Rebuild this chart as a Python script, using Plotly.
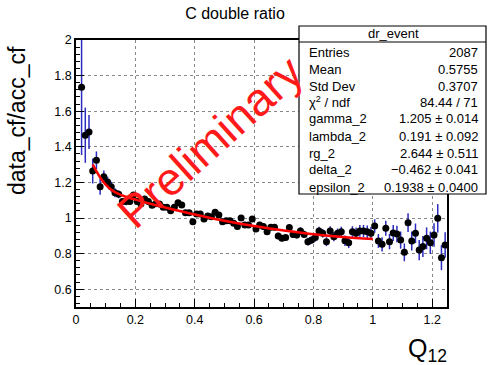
import plotly.graph_objects as go

# ---- data ----
q12 = [0.0188, 0.0313, 0.0438, 0.0563, 0.0688, 0.0813, 0.0938, 0.1063, 0.1188, 0.1313,
       0.1438, 0.1563, 0.1688, 0.1813, 0.1938, 0.2063, 0.2188, 0.2313, 0.2438, 0.2563,
       0.2688, 0.2813, 0.2938, 0.3063, 0.3188, 0.3313, 0.3438, 0.3563, 0.3688, 0.3813,
       0.3938, 0.4063, 0.4188, 0.4313, 0.4438, 0.4563, 0.4688, 0.4813, 0.4938, 0.5063,
       0.5188, 0.5313, 0.5438, 0.5563, 0.5688, 0.5813, 0.5938, 0.6063, 0.6188, 0.6313,
       0.6438, 0.6563, 0.6688, 0.6813, 0.6938, 0.7063, 0.7188, 0.7313, 0.7438, 0.7563,
       0.7688, 0.7813, 0.7938, 0.8063, 0.8188, 0.8313, 0.8438, 0.8563, 0.8688, 0.8813,
       0.8938, 0.9063, 0.9188, 0.9313, 0.9438, 0.9563, 0.9688, 0.9813, 0.9938, 1.0063,
       1.0188, 1.0313, 1.0438, 1.0563, 1.0688, 1.0813, 1.0938, 1.1063, 1.1188, 1.1313,
       1.1438, 1.1563, 1.1688, 1.1813, 1.1938, 1.2063, 1.2188, 1.2313, 1.2438]
ratio = [1.734, 1.465, 1.483, 1.264, 1.324, 1.176, 1.232, 1.202, 1.176, 1.142,
         1.133, 1.092, 1.092, 1.092, 1.129, 1.092, 1.079, 1.107, 1.092, 1.071,
         1.080, 1.079, 1.060, 1.060, 1.041, 1.060, 1.086, 1.073, 1.030, 1.030,
         0.979, 1.022, 1.022, 0.994, 1.011, 1.007, 1.032, 1.017, 0.979, 0.985,
         0.985, 0.970, 0.952, 1.000, 0.961, 0.961, 0.994, 0.938, 0.961, 0.952,
         0.923, 0.948, 0.948, 0.899, 0.886, 0.890, 0.946, 0.908, 0.905, 0.927,
         0.908, 0.867, 0.876, 0.890, 0.927, 0.914, 0.867, 0.927, 0.895, 0.914,
         0.923, 0.872, 0.861, 0.923, 0.914, 0.927, 0.927, 0.923, 0.914, 0.955,
         0.871, 0.852, 0.942, 0.867, 0.916, 0.910, 0.876, 0.807, 0.974, 0.871,
         0.914, 0.820, 0.840, 0.886, 0.861, 0.905, 0.998, 0.777, 0.848]
ratio_err = [0.380, 0.155, 0.095, 0.070, 0.050, 0.045, 0.035, 0.030, 0.028, 0.025,
             0.022, 0.020, 0.020, 0.018, 0.016, 0.015, 0.015, 0.014, 0.014, 0.014,
             0.014, 0.013, 0.013, 0.013, 0.013, 0.013, 0.013, 0.013, 0.013, 0.013,
             0.013, 0.013, 0.013, 0.013, 0.013, 0.013, 0.014, 0.014, 0.014, 0.014,
             0.014, 0.014, 0.015, 0.015, 0.015, 0.015, 0.016, 0.016, 0.016, 0.017,
             0.017, 0.017, 0.018, 0.018, 0.018, 0.019, 0.019, 0.020, 0.020, 0.021,
             0.021, 0.022, 0.022, 0.023, 0.024, 0.024, 0.025, 0.026, 0.026, 0.027,
             0.028, 0.029, 0.030, 0.031, 0.032, 0.033, 0.034, 0.035, 0.036, 0.038,
             0.039, 0.040, 0.042, 0.043, 0.045, 0.046, 0.048, 0.050, 0.052, 0.053,
             0.055, 0.057, 0.059, 0.061, 0.063, 0.066, 0.080, 0.070, 0.072]

fit_q = [0.0563, 0.07, 0.08, 0.09, 0.10, 0.12, 0.14, 0.17, 0.20, 0.25, 0.30,
         0.40, 0.50, 0.60, 0.70, 0.80, 0.90, 1.00]
fit_val = [1.301, 1.259, 1.232, 1.208, 1.188, 1.158, 1.138, 1.118, 1.103, 1.080, 1.059,
           1.020, 0.985, 0.955, 0.930, 0.909, 0.893, 0.882]

stat_labels = ["Entries", "Mean", "Std Dev", "χ<sup>2</sup> / ndf", "gamma_2",
               "lambda_2", "rg_2", "delta_2", "epsilon_2"]
stat_values = ["2087", "0.5755", "0.3707", "84.44 / 71", "1.205 ± 0.014",
               "0.191 ± 0.092", "2.644 ± 0.511", "−0.462 ± 0.041", "0.1938 ± 0.0400"]

W, H = 488, 365
L, R, T, B = 76, 447, 40, 307  # plot frame in pixels


def px(x):
    return (x - L) / (R - L)


def py(y):
    return (B - y) / (B - T)


FONT = "Liberation Sans, Arial, Helvetica, sans-serif"

fig = go.Figure()
fig.add_trace(go.Scatter(
    x=q12, y=ratio, mode="markers",
    marker=dict(color="black", size=7),
    error_y=dict(type="data", array=ratio_err, color="#2b2bbf", thickness=1.5, width=0),
    showlegend=False, cliponaxis=True))
fig.add_trace(go.Scatter(
    x=fit_q, y=fit_val, mode="lines", line=dict(color="#ff0000", width=2.5, shape="spline"),
    showlegend=False))

axis_common = dict(
    showline=True, linecolor="black", linewidth=1.5, mirror=True,
    ticks="inside", ticklen=8, tickcolor="black", tickwidth=1,
    showgrid=True, gridcolor="#888888", griddash="dot", gridwidth=1,
    zeroline=False, tickfont=dict(family=FONT, size=12.5, color="black"),
)
fig.update_xaxes(range=[0, 1.25], dtick=0.2, tick0=0,
                 minor=dict(dtick=0.05, ticks="inside", ticklen=4, tickcolor="black", showgrid=False),
                 **axis_common)
fig.update_yaxes(range=[0.5, 2.0], dtick=0.2, tick0=0.6,
                 minor=dict(dtick=0.04, tick0=0.52, ticks="inside", ticklen=4, tickcolor="black", showgrid=False),
                 **axis_common)

shapes = [
    dict(type="rect", xref="paper", yref="paper", x0=px(299), x1=px(486), y0=py(194), y1=py(26),
         line=dict(color="black", width=1.2), fillcolor="white", layer="above"),
    dict(type="line", xref="paper", yref="paper", x0=px(299), x1=px(486), y0=py(42), y1=py(42),
         line=dict(color="black", width=1), layer="above"),
]

annotations = [
    dict(text="dr_event", x=px(393), y=py(34), xref="paper", yref="paper", showarrow=False,
         xanchor="center", yanchor="middle", font=dict(family=FONT, size=13, color="black")),
]
row_y = [52, 69.5, 86, 102, 119, 136, 153, 169.5, 187]
for lab, val, yy in zip(stat_labels, stat_values, row_y):
    annotations.append(dict(text=lab, x=px(307), y=py(yy), xref="paper", yref="paper",
                            showarrow=False, xanchor="left", yanchor="middle",
                            font=dict(family=FONT, size=13, color="black")))
    annotations.append(dict(text=val, x=px(480), y=py(yy), xref="paper", yref="paper",
                            showarrow=False, xanchor="right", yanchor="middle",
                            font=dict(family=FONT, size=13, color="black")))

annotations += [
    dict(text="Preliminary", x=px(210), y=py(142), xref="paper", yref="paper", showarrow=False,
         xanchor="center", yanchor="middle", textangle=-42,
         font=dict(family=FONT, size=46, color="#ff1a1a")),
    dict(text="data_cf/acc_cf", x=px(17), y=py(121), xref="paper", yref="paper", showarrow=False,
         xanchor="center", yanchor="middle", textangle=-90,
         font=dict(family=FONT, size=23, color="black")),
    dict(text="Q<sub>12</sub>", x=px(449), y=py(350), xref="paper", yref="paper", showarrow=False,
         xanchor="right", yanchor="middle",
         font=dict(family=FONT, size=25, color="black")),
]

fig.update_layout(
    width=W, height=H,
    margin=dict(l=L, r=W - R, t=T, b=H - B, pad=0),
    paper_bgcolor="white", plot_bgcolor="white",
    title=dict(text="C double ratio", x=235 / W, xanchor="center", y=1 - 13 / H, yanchor="middle",
               font=dict(family=FONT, size=16, color="black")),
    shapes=shapes, annotations=annotations,
)

fig.write_html("out.html")
